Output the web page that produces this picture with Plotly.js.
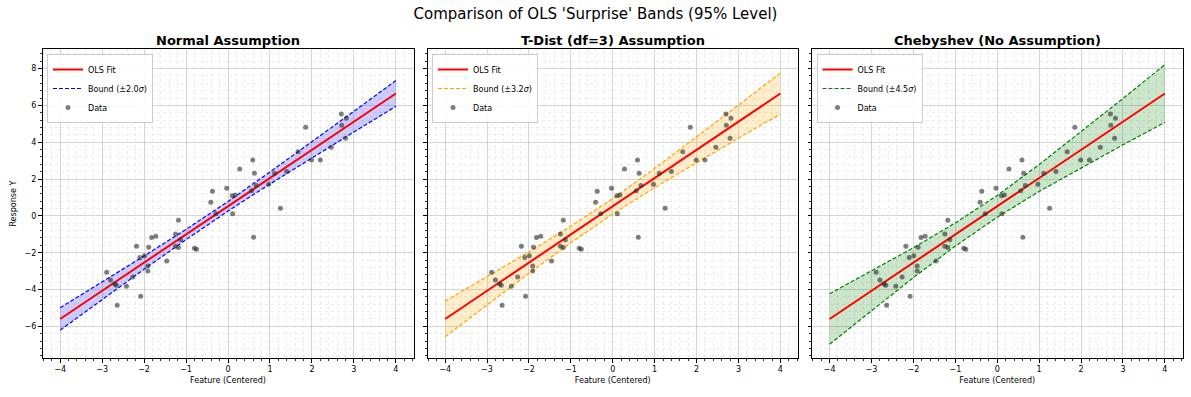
<!DOCTYPE html>
<html>
<head>
<meta charset="utf-8">
<script src="https://cdn.plot.ly/plotly-3.0.1.min.js"></script>
<style>html,body{margin:0;padding:0;background:#fff;}#chart{width:1191px;height:397px;}</style>
</head>
<body>
<div id="chart"></div>
<script>
// ---- data ----
const dataX = [-2.89,-2.80,-2.70,-2.66,-2.64,-2.42,-2.27,-2.18,-2.10,-2.08,-1.99,-1.91,-1.91,-1.89,-1.82,-1.72,-1.46,-1.25,-1.25,-1.18,-1.18,-1.13,-0.80,-0.75,-0.41,-0.37,-0.29,-0.03,0.10,0.11,0.17,0.28,0.56,0.59,0.61,0.63,0.67,0.97,1.11,1.25,1.40,1.67,1.85,1.99,2.20,2.46,2.70,2.71,2.80,2.82];
const dataY = [-3.06,-3.48,-3.70,-3.77,-4.85,-3.82,-3.32,-1.65,-2.26,-4.36,-2.16,-2.72,-2.99,-1.70,-1.18,-1.10,-2.45,-0.98,-1.65,-0.24,-1.72,-1.30,-1.76,-1.81,0.74,1.34,0.11,1.50,1.09,0.11,1.14,2.55,1.36,3.03,-1.16,2.32,1.65,1.72,2.32,0.42,2.41,3.48,4.82,3.03,3.03,3.73,5.53,4.93,4.22,5.31];

const fitX = [-4, 4];
const fitY = [-5.60, 6.65];

const bandX = [-4,-3,-2,-1,0,1,2,3,4];
const normalUpper = [-4.99,-3.59,-2.18,-0.73,0.78,2.39,4.02,5.68,7.35];
const normalLower = [-6.21,-4.55,-2.90,-1.29,0.26,1.73,3.16,4.56,5.95];
const tdistUpper  = [-4.63,-3.31,-1.96,-0.56,0.94,2.58,4.28,6.02,7.77];
const tdistLower  = [-6.57,-4.84,-3.12,-1.46,0.10,1.54,2.90,4.22,5.53];
const chebUpper   = [-4.23,-2.99,-1.73,-0.38,1.11,2.79,4.57,6.38,8.22];
const chebLower   = [-6.97,-5.15,-3.35,-1.64,-0.07,1.33,2.61,3.86,5.08];

const panelTitles = ['Normal Assumption','T-Dist (df=3) Assumption','Chebyshev (No Assumption)'];
const boundNames = ['Bound (±2.0<i>σ</i>)','Bound (±3.2<i>σ</i>)','Bound (±4.5<i>σ</i>)'];
const mainTitle = "Comparison of OLS 'Surprise' Bands (95% Level)";
const xTitle = 'Feature (Centered)';
const yTitle = 'Response Y';

// ---- styling ----
const W = 1191, H = 397;
const font = 'DejaVu Sans, Liberation Sans, sans-serif';
const lineCols = ['#0000ff','#ffa500','#008000'];
const fillCols = ['rgba(0,0,255,0.2)','rgba(255,165,0,0.2)','rgba(0,128,0,0.2)'];
const uppers = [normalUpper, tdistUpper, chebUpper];
const lowers = [normalLower, tdistLower, chebLower];
const doms = [[42.5,413.5],[427.5,798],[812,1182.5]];
const yTop = 49.3, yBot = 358;

const traces = [];
const layout = {
  width: W, height: H,
  margin: {l:0, r:0, t:0, b:0},
  paper_bgcolor: '#fff', plot_bgcolor: '#fff',
  font: {family: font, size: 8, color: '#000'},
  title: {text: mainTitle, font: {family: font, size: 15, color:'#000'}, x: 0.5, xanchor:'center', y: 1 - 14/H, yanchor:'middle'},
  annotations: [],
  showlegend: true
};

for (let i = 0; i < 3; i++) {
  const sx = i === 0 ? '' : String(i+1);
  const xa = 'x' + sx, ya = 'y' + sx;
  const lg = i === 0 ? 'legend' : 'legend' + (i+1);
  // fill band as closed polygon
  const polyX = bandX.concat(bandX.slice().reverse());
  const polyY = uppers[i].concat(lowers[i].slice().reverse());
  traces.push({x: polyX, y: polyY, xaxis: xa, yaxis: ya, mode:'lines', fill:'toself', fillcolor: fillCols[i], line:{width:0, color:'rgba(0,0,0,0)'}, showlegend:false, hoverinfo:'skip', legend: lg});
  // fit
  traces.push({x: fitX, y: fitY, xaxis: xa, yaxis: ya, mode:'lines', name:'OLS Fit', line:{color:'#ff0000', width:2}, legend: lg});
  // bounds
  traces.push({x: bandX, y: uppers[i], xaxis: xa, yaxis: ya, mode:'lines', name: boundNames[i], line:{color: lineCols[i], width:1.2, dash:'4px,2px'}, legend: lg});
  traces.push({x: bandX, y: lowers[i], xaxis: xa, yaxis: ya, mode:'lines', name: boundNames[i], showlegend:false, line:{color: lineCols[i], width:1.2, dash:'4px,2px'}, legend: lg});
  // data
  traces.push({x: dataX, y: dataY, xaxis: xa, yaxis: ya, mode:'markers', name:'Data', marker:{color:'rgba(40,40,40,0.6)', size:5, line:{width:0}}, legend: lg});

  const minorX = {dtick:0.2, ticks:'outside', ticklen:2, tickcolor:'#000', tickwidth:0.8, showgrid:true, gridcolor:'#e4e4e4', griddash:'dot', gridwidth:0.7};
  const minorY = {dtick:0.4, ticks:'outside', ticklen:2, tickcolor:'#000', tickwidth:0.8, showgrid:true, gridcolor:'#e4e4e4', griddash:'dot', gridwidth:0.7};
  layout['xaxis' + sx] = {
    domain: [doms[i][0]/W, doms[i][1]/W], anchor: ya,
    range: [-4.42, 4.42], tick0: 0, dtick: 1, zeroline: false,
    showline: true, linecolor:'#000', linewidth: 1, mirror: true,
    ticks: 'outside', ticklen: 3.5, tickwidth: 1, tickcolor:'#000',
    showgrid: true, gridcolor: '#cbcbcb', gridwidth: 0.8,
    tickfont: {family: font, size: 8, color:'#000'},
    minor: minorX,
    title: {text: xTitle, font: {family: font, size: 8, color:'#000'}, standoff: 4},
    automargin: false
  };
  layout['yaxis' + sx] = {
    domain: [1 - yBot/H, 1 - yTop/H], anchor: xa,
    range: [-7.72, 9.05], tick0: 0, dtick: 2, zeroline: false,
    showline: true, linecolor:'#000', linewidth: 1, mirror: true,
    ticks: 'outside', ticklen: 3.5, tickwidth: 1, tickcolor:'#000',
    showgrid: true, gridcolor: '#cbcbcb', gridwidth: 0.8,
    tickfont: {family: font, size: 8, color:'#000'},
    showticklabels: i === 0,
    minor: minorY,
    automargin: false
  };
  if (i === 0) layout['yaxis'].title = {text: yTitle, font:{family: font, size: 8, color:'#000'}, standoff: 6};
  layout[lg] = {
    x: (doms[i][0] + 4.5)/W, y: 1 - 54/H, xanchor:'left', yanchor:'top',
    bgcolor:'rgba(255,255,255,0.85)', bordercolor:'#cccccc', borderwidth: 1,
    font: {family: font, size: 8, color:'#000'},
    tracegroupgap: 0, itemwidth: 30
  };
  layout.annotations.push({
    text: '<b>' + panelTitles[i] + '</b>', xref:'paper', yref:'paper',
    x: (doms[i][0] + doms[i][1])/2/W, y: 1 - 40/H, xanchor:'center', yanchor:'middle',
    showarrow: false, font: {family: font, size: 13, color:'#000'}
  });
}

Plotly.newPlot('chart', traces, layout, {displayModeBar:false, staticPlot:true});
</script>
</body>
</html>
